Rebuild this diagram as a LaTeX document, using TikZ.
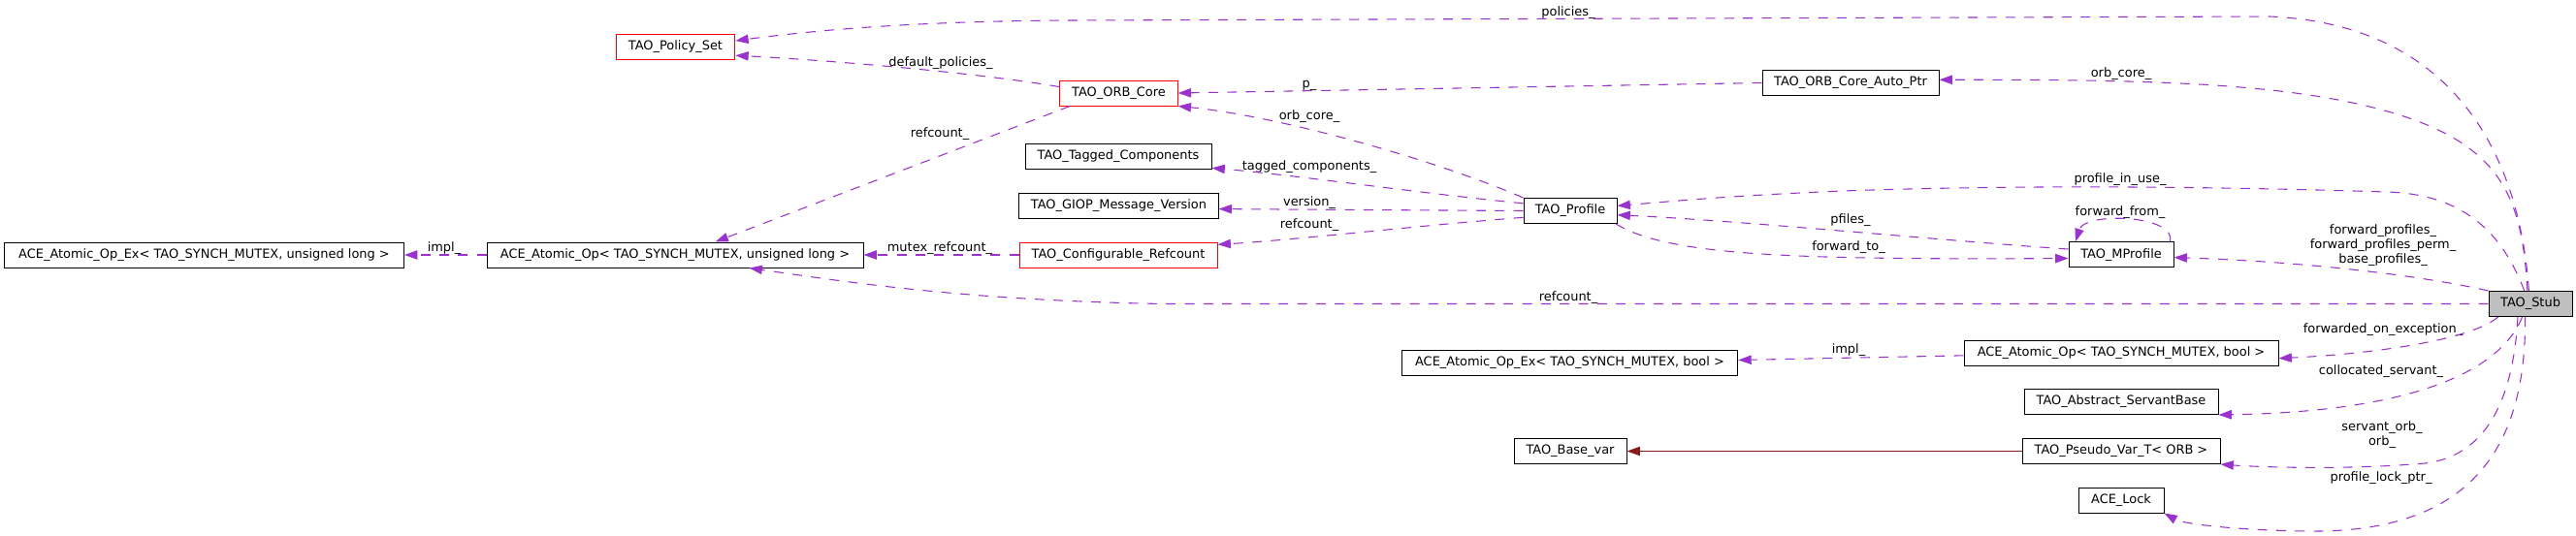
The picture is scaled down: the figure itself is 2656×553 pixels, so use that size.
\documentclass[tikz,border=0pt]{standalone}
\usepackage{fontspec}
\setmainfont{DejaVu Sans}
\usetikzlibrary{arrows.meta}
\definecolor{usecol}{HTML}{9A32CD}
\definecolor{inhcol}{HTML}{8B1A1A}
\definecolor{stubfill}{HTML}{BFBFBF}

\begin{document}
\begin{tikzpicture}[x=0.75pt,y=-0.75pt,
  font=\fontsize{9.7pt}{11pt}\selectfont,
  cls/.style={draw,line width=0.75pt,minimum height=19.5pt,inner sep=0pt},
  trunc/.style={cls,draw=red},
  member/.style={usecol,line width=0.8pt,dash pattern=on 7.5pt off 7pt,-{Stealth[inset=0pt,length=10pt,width=7pt]}},
  inh/.style={inhcol,line width=0.8pt,-{Stealth[inset=0pt,length=10pt,width=7pt]}},
  lbl/.style={inner sep=0pt,align=center}]
\useasboundingbox (0,0) rectangle (2656,553);

 \node[trunc,minimum width=92pt] (policyset) at (696.5,48.5) {TAO\_Policy\_Set};
 \node[trunc,minimum width=91pt] (orbcore) at (1153.5,96) {TAO\_ORB\_Core};
 \node[cls,minimum width=136.5pt] (autoptr) at (1908,85.5) {TAO\_ORB\_Core\_Auto\_Ptr};
 \node[cls,minimum width=144pt] (tagged) at (1153,161.5) {TAO\_Tagged\_Components};
 \node[cls,minimum width=154pt] (giop) at (1153.5,212) {TAO\_GIOP\_Message\_Version};
 \node[trunc,minimum width=153pt] (confref) at (1153,263) {TAO\_Configurable\_Refcount};
 \node[cls,minimum width=309pt] (atomicexul) at (210.5,263) {ACE\_Atomic\_Op\_Ex< TAO\_SYNCH\_MUTEX, unsigned long >};
 \node[cls,minimum width=291pt] (atomicul) at (696,263) {ACE\_Atomic\_Op< TAO\_SYNCH\_MUTEX, unsigned long >};
 \node[cls,minimum width=72pt] (profile) at (1619,217.5) {TAO\_Profile};
 \node[cls,minimum width=81pt] (mprofile) at (2187,262.75) {TAO\_MProfile};
 \node[cls,fill=stubfill,minimum width=64.5pt] (stub) at (2609,313.5) {TAO\_Stub};
 \node[cls,minimum width=243pt] (atomicbool) at (2187,364) {ACE\_Atomic\_Op< TAO\_SYNCH\_MUTEX, bool >};
 \node[cls,minimum width=260pt] (atomicexbool) at (1618.5,374.5) {ACE\_Atomic\_Op\_Ex< TAO\_SYNCH\_MUTEX, bool >};
 \node[cls,minimum width=150pt] (servant) at (2187,414.5) {TAO\_Abstract\_ServantBase};
 \node[cls,minimum width=87pt] (basevar) at (1619,465.5) {TAO\_Base\_var};
 \node[cls,minimum width=153pt] (pseudovar) at (2187,465.5) {TAO\_Pseudo\_Var\_T< ORB >};
 \node[cls,minimum width=66pt] (acelock) at (2187,516) {ACE\_Lock};

 \node[lbl] (lpolicies) at (1617,13) {policies\_};
 \node[lbl] (ldefpol) at (970,65) {default\_policies\_};
 \node[lbl] (lrefcore) at (969,138) {refcount\_};
 \node[lbl] (lp) at (1350,88) {p\_};
 \node[lbl] (lorbstub) at (2187,76) {orb\_core\_};
 \node[lbl] (lorbprof) at (1350,120) {orb\_core\_};
 \node[lbl] (ltagged) at (1350,172) {tagged\_components\_};
 \node[lbl] (lversion) at (1350,209) {version\_};
 \node[lbl] (lrefprof) at (1350,232) {refcount\_};
 \node[lbl] (lmutex) at (969,256) {mutex\_refcount\_};
 \node[lbl] (limplul) at (458,256) {impl\_};
 \node[lbl] (linuse) at (2186,185) {profile\_in\_use\_};
 \node[lbl] (lpfiles) at (1908,227) {pfiles\_};
 \node[lbl] (lfwdto) at (1906,255) {forward\_to\_};
 \node[lbl] (lfwdfrom) at (2186,219) {forward\_from\_};
 \node[lbl] (lfwdprof) at (2457,253) {forward\_profiles\_\\forward\_profiles\_perm\_\\base\_profiles\_};
 \node[lbl] (lrefstub) at (1617,307) {refcount\_};
 \node[lbl] (lfwdexc) at (2457,340) {forwarded\_on\_exception\_};
 \node[lbl] (limplbool) at (1906,361) {impl\_};
 \node[lbl] (lcolloc) at (2455,383) {collocated\_servant\_};
 \node[lbl] (lservorb) at (2456,448.5) {servant\_orb\_\\orb\_};
 \node[lbl] (llock) at (2455,493) {profile\_lock\_ptr\_};

 \draw[member] (stub.97) .. controls (2598,160) and (2530,25) .. (2340,17) -- (1100,21) .. controls (950,22) and (850,30) .. (policyset.6);
 \draw[member] (orbcore.174) .. controls (1000,74) and (850,62) .. (policyset.-8);
 \draw[member] (orbcore.-165) -- (atomicul.18);
 \draw[member] (autoptr.west) -- (orbcore.east);
 \draw[member] (stub.103) .. controls (2600,200) and (2580,140) .. (2430,107) .. controls (2330,85) and (2200,82) .. (autoptr.2);
 \draw[member] (profile.north west) .. controls (1480,165) and (1320,120) .. (orbcore.south east);
 \draw[member] (profile.171) .. controls (1470,200) and (1330,180) .. (tagged.-7);
 \draw[member] (profile.west) -- (giop.-2);
 \draw[member] (profile.188) .. controls (1470,232) and (1330,248) .. (confref.6);
 \draw[member] (confref.west) -- (atomicul.east);
 \draw[member] (atomicul.west) -- (atomicexul.east);
 \draw[member] (stub.115) .. controls (2580,240) and (2540,200) .. (2460,198) .. controls (2300,193) and (2100,190) .. (1900,197) .. controls (1780,202) and (1720,208) .. (profile.6);
 \draw[member] (mprofile.174) .. controls (2000,248) and (1800,228) .. (profile.-5);
 \draw[member] (profile.-16) .. controls (1720,264) and (1850,268) .. (mprofile.184);
 \draw[member] (mprofile.15) .. controls (2245,222) and (2150,218) .. (mprofile.164);
 \draw[member] (stub.north west) .. controls (2500,285) and (2380,270) .. (mprofile.-3);
 \draw[member] (stub.west) -- (1200,313.5) .. controls (1000,310) and (880,292) .. (atomicul.-10);
 \draw[member] (stub.-158) .. controls (2550,350) and (2450,365) .. (atomicbool.-2);
 \draw[member] (atomicbool.181) -- (atomicexbool.1);
 \draw[member] (stub.-122) .. controls (2575,390) and (2470,425) .. (servant.south east);
 \draw[member] (stub.-134) .. controls (2592,400) and (2570,470) .. (2500,478) .. controls (2420,485) and (2330,482) .. (pseudovar.south east);
 \draw[inh] (pseudovar.west) -- (basevar.east);
 \draw[member] (stub.-112) .. controls (2605,470) and (2540,550) .. (2380,548) .. controls (2300,547) and (2250,540) .. (acelock.south east);

\end{tikzpicture}
\end{document}
